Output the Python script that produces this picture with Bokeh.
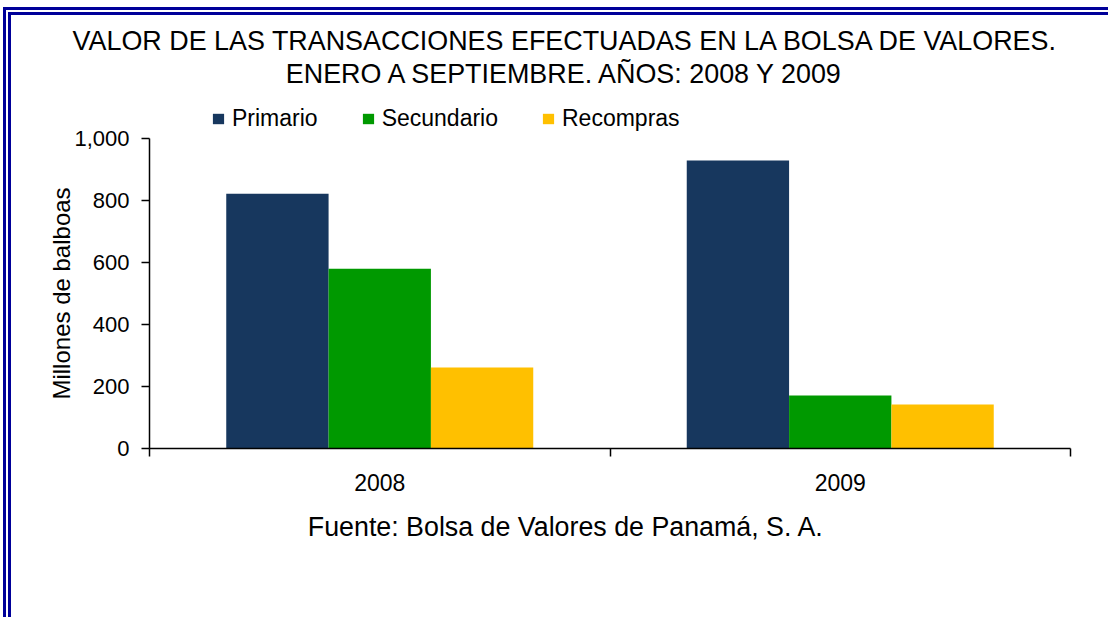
from bokeh.plotting import figure
from bokeh.models import (ColumnDataSource, Range1d, FixedTicker, NumeralTickFormatter,
                          Legend, LegendItem, Label)
from bokeh.transform import dodge
from bokeh.embed import file_html
from bokeh.resources import INLINE

# ---- data ----
years = ["2008", "2009"]
series = ["Primario", "Secundario", "Recompras"]
primario = [822, 929]
secundario = [580, 171]
recompras = [261, 142]
colors = ["#17375E", "#009900", "#FFC000"]
y_ticks = [0, 200, 400, 600, 800, 1000]
y_max = 1000

title_lines = ["VALOR DE LAS TRANSACCIONES EFECTUADAS EN LA BOLSA DE VALORES.",
               "ENERO A SEPTIEMBRE. AÑOS: 2008 Y 2009"]
source_note = "Fuente: Bolsa de Valores de Panamá, S. A."
y_label = "Millones de balboas"

FONT = "Liberation Sans"
# figure sits at page (3, 7) with an 8px double border on left/top -> canvas origin at page (11, 15)
W, H = 1105, 610
# plotting area in canvas pixels (frame covers the whole canvas; axes are pinned inside it)
AX_L, AX_R, AX_T, AX_B = 138, 1059, 123, 433

n = len(years)
xpx = (AX_R - AX_L) / n
ypx = (AX_B - AX_T) / y_max
x_range = Range1d(-AX_L / xpx, n + (W - AX_R) / xpx)
y_range = Range1d(-(H - AX_B) / ypx, AX_B / ypx)

src = ColumnDataSource(dict(
    x=[i + 0.5 for i in range(n)],
    Primario=primario, Secundario=secundario, Recompras=recompras,
))

p = figure(width=W, height=H, x_range=x_range, y_range=y_range,
           output_backend="svg", toolbar_location=None, title_location=None,
           min_border_left=0, min_border_right=0, min_border_top=0, min_border_bottom=0)
p.styles = {"position": "absolute", "left": "3px", "top": "7px",
            "border-left": "8px double #000099", "border-top": "8px double #000099"}
p.background_fill_color = "white"
p.border_fill_color = "white"
p.outline_line_color = None
p.xgrid.visible = False
p.ygrid.visible = False

bw = 2 / 9
offsets = [-bw, 0, bw]
renderers = []
for name, off, col in zip(series, offsets, colors):
    r = p.vbar(x=dodge("x", off), top=name, width=bw, bottom=0, source=src,
               fill_color=col, line_color=None)
    renderers.append(r)

# x axis: labels at category centres, ticks at category boundaries
xa = p.xaxis[0]
xa.fixed_location = 0
xa.bounds = (0, n)
xa.ticker = FixedTicker(ticks=[i + 0.5 for i in range(n)], minor_ticks=list(range(n + 1)))
xa.major_label_overrides = {i + 0.5: y for i, y in enumerate(years)}
xa.major_tick_line_color = None
xa.major_tick_out = 8
xa.major_tick_in = 0
xa.minor_tick_line_color = "black"
xa.minor_tick_out = 8
xa.minor_tick_in = 0
xa.minor_tick_line_width = 1.5
xa.axis_line_color = "black"
xa.axis_line_width = 1.5
xa.major_label_text_font = FONT
xa.major_label_text_font_size = "23px"
xa.major_label_text_color = "black"
xa.major_label_standoff = 17

ya = p.yaxis[0]
ya.fixed_location = 0
ya.bounds = (0, y_max)
ya.ticker = FixedTicker(ticks=y_ticks)
ya.formatter = NumeralTickFormatter(format="0,0")
ya.major_tick_out = 8
ya.major_tick_in = 0
ya.major_tick_line_color = "black"
ya.major_tick_line_width = 1.5
ya.minor_tick_line_color = None
ya.axis_line_color = "black"
ya.axis_line_width = 1.5
ya.major_label_text_font = FONT
ya.major_label_text_font_size = "22px"
ya.major_label_text_color = "black"
ya.major_label_standoff = 12
ya.axis_label = y_label
ya.axis_label_text_font = FONT
ya.axis_label_text_font_size = "24px"
ya.axis_label_text_font_style = "normal"
ya.axis_label_text_color = "black"
ya.axis_label_standoff = -4

legend = Legend(items=[LegendItem(label=s, renderers=[r]) for s, r in zip(series, renderers)],
                orientation="horizontal", location=(200, 493),
                glyph_width=14, glyph_height=13, label_standoff=7, spacing=43,
                padding=0, margin=0, border_line_color=None, background_fill_alpha=0,
                label_text_font=FONT, label_text_font_size="23px", label_text_color="black")
p.add_layout(legend, "center")

for line, yy in zip(title_lines, [17, 50]):
    p.add_layout(Label(x=546.5, y=yy, x_units="canvas", y_units="canvas", text=line,
                       text_align="center", text_baseline="middle",
                       text_font=FONT, text_font_size="26.9px", text_color="black"))
p.add_layout(Label(x=546.5, y=503, x_units="canvas", y_units="canvas", text=source_note,
                   text_align="center", text_baseline="middle",
                   text_font=FONT, text_font_size="26.8px", text_color="black"))

open("out.html", "w").write(file_html(p, INLINE))
